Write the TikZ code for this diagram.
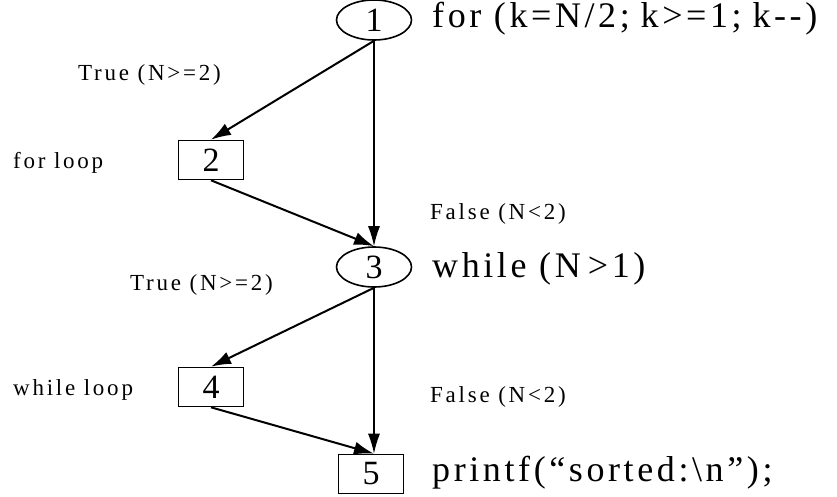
\documentclass[tikz,border=0pt]{standalone}
\usepackage{fontspec}
\setmainfont{Liberation Serif}
\newfontfamily\codefont[LetterSpace=10]{Liberation Serif}
\newfontfamily\notefont[LetterSpace=12]{Liberation Serif}
\usetikzlibrary{arrows.meta,shapes.geometric}

\begin{document}
\begin{tikzpicture}[x=1pt,y=-1pt,
  oval/.style={draw, ellipse, line width=1.6pt, minimum width=75pt, minimum height=40pt, inner sep=0pt, font=\fontsize{34}{34}\selectfont},
  box/.style={draw, rectangle, line width=1.6pt, minimum width=65pt, minimum height=39pt, inner sep=0pt, font=\fontsize{34}{34}\selectfont},
  flow/.style={-{Latex[length=20pt,width=13pt]}, line width=2pt},
  flowv/.style={-{Latex[length=20pt,width=12pt]}, line width=1.4pt},
  code/.style={anchor=west, inner sep=0pt, font=\codefont\fontsize{36}{36}\selectfont},
  note/.style={anchor=west, inner sep=0pt, font=\notefont\fontsize{23}{23}\selectfont}]
  \useasboundingbox (0,0) rectangle (837,496);

  % Nodes
  \node[oval] (n1) at (374,20) {1};
  \node[box]  (n2) at (211,160) {2};
  \node[oval] (n3) at (374,267) {3};
  \node[box]  (n4) at (211,387) {4};
  \node[box]  (n5) at (371,474) {5};

  % Arrows
  \draw[flow]  (n1.south) -- (n2.north);
  \draw[flowv] (n1.south) -- (n3.north);
  \draw[flow]  (n2.south) -- (n3.north);
  \draw[flow]  (n3.south) -- (n4.north);
  \draw[flowv] (n3.south) -- (n5.north -| n3.south);
  \draw[flow]  (n4.south) -- (n5.north -| n3.south);

  % Code beside the nodes
  \node[code] (c1) at (432,19) {for (k=N/2;\hspace{0.3em}k>=1;\hspace{0.3em}k-{}-)};
  \node[code] (c3) at (432,269) {while (N\hspace{0.2em}>1)};
  \node[code] (c5) at (432,473) {printf(“sorted:\textbackslash n”);};

  % Branch labels
  \node[note] (t1) at (78,75) {True (N>=2)};
  \node[note] (l2) at (13,163) {for loop};
  \node[note] (f1) at (430,214) {False (N<2)};
  \node[note] (t3) at (130,285) {True (N>=2)};
  \node[note] (l4) at (13,390) {while loop};
  \node[note] (f3) at (430,397) {False (N<2)};
\end{tikzpicture}
\end{document}
